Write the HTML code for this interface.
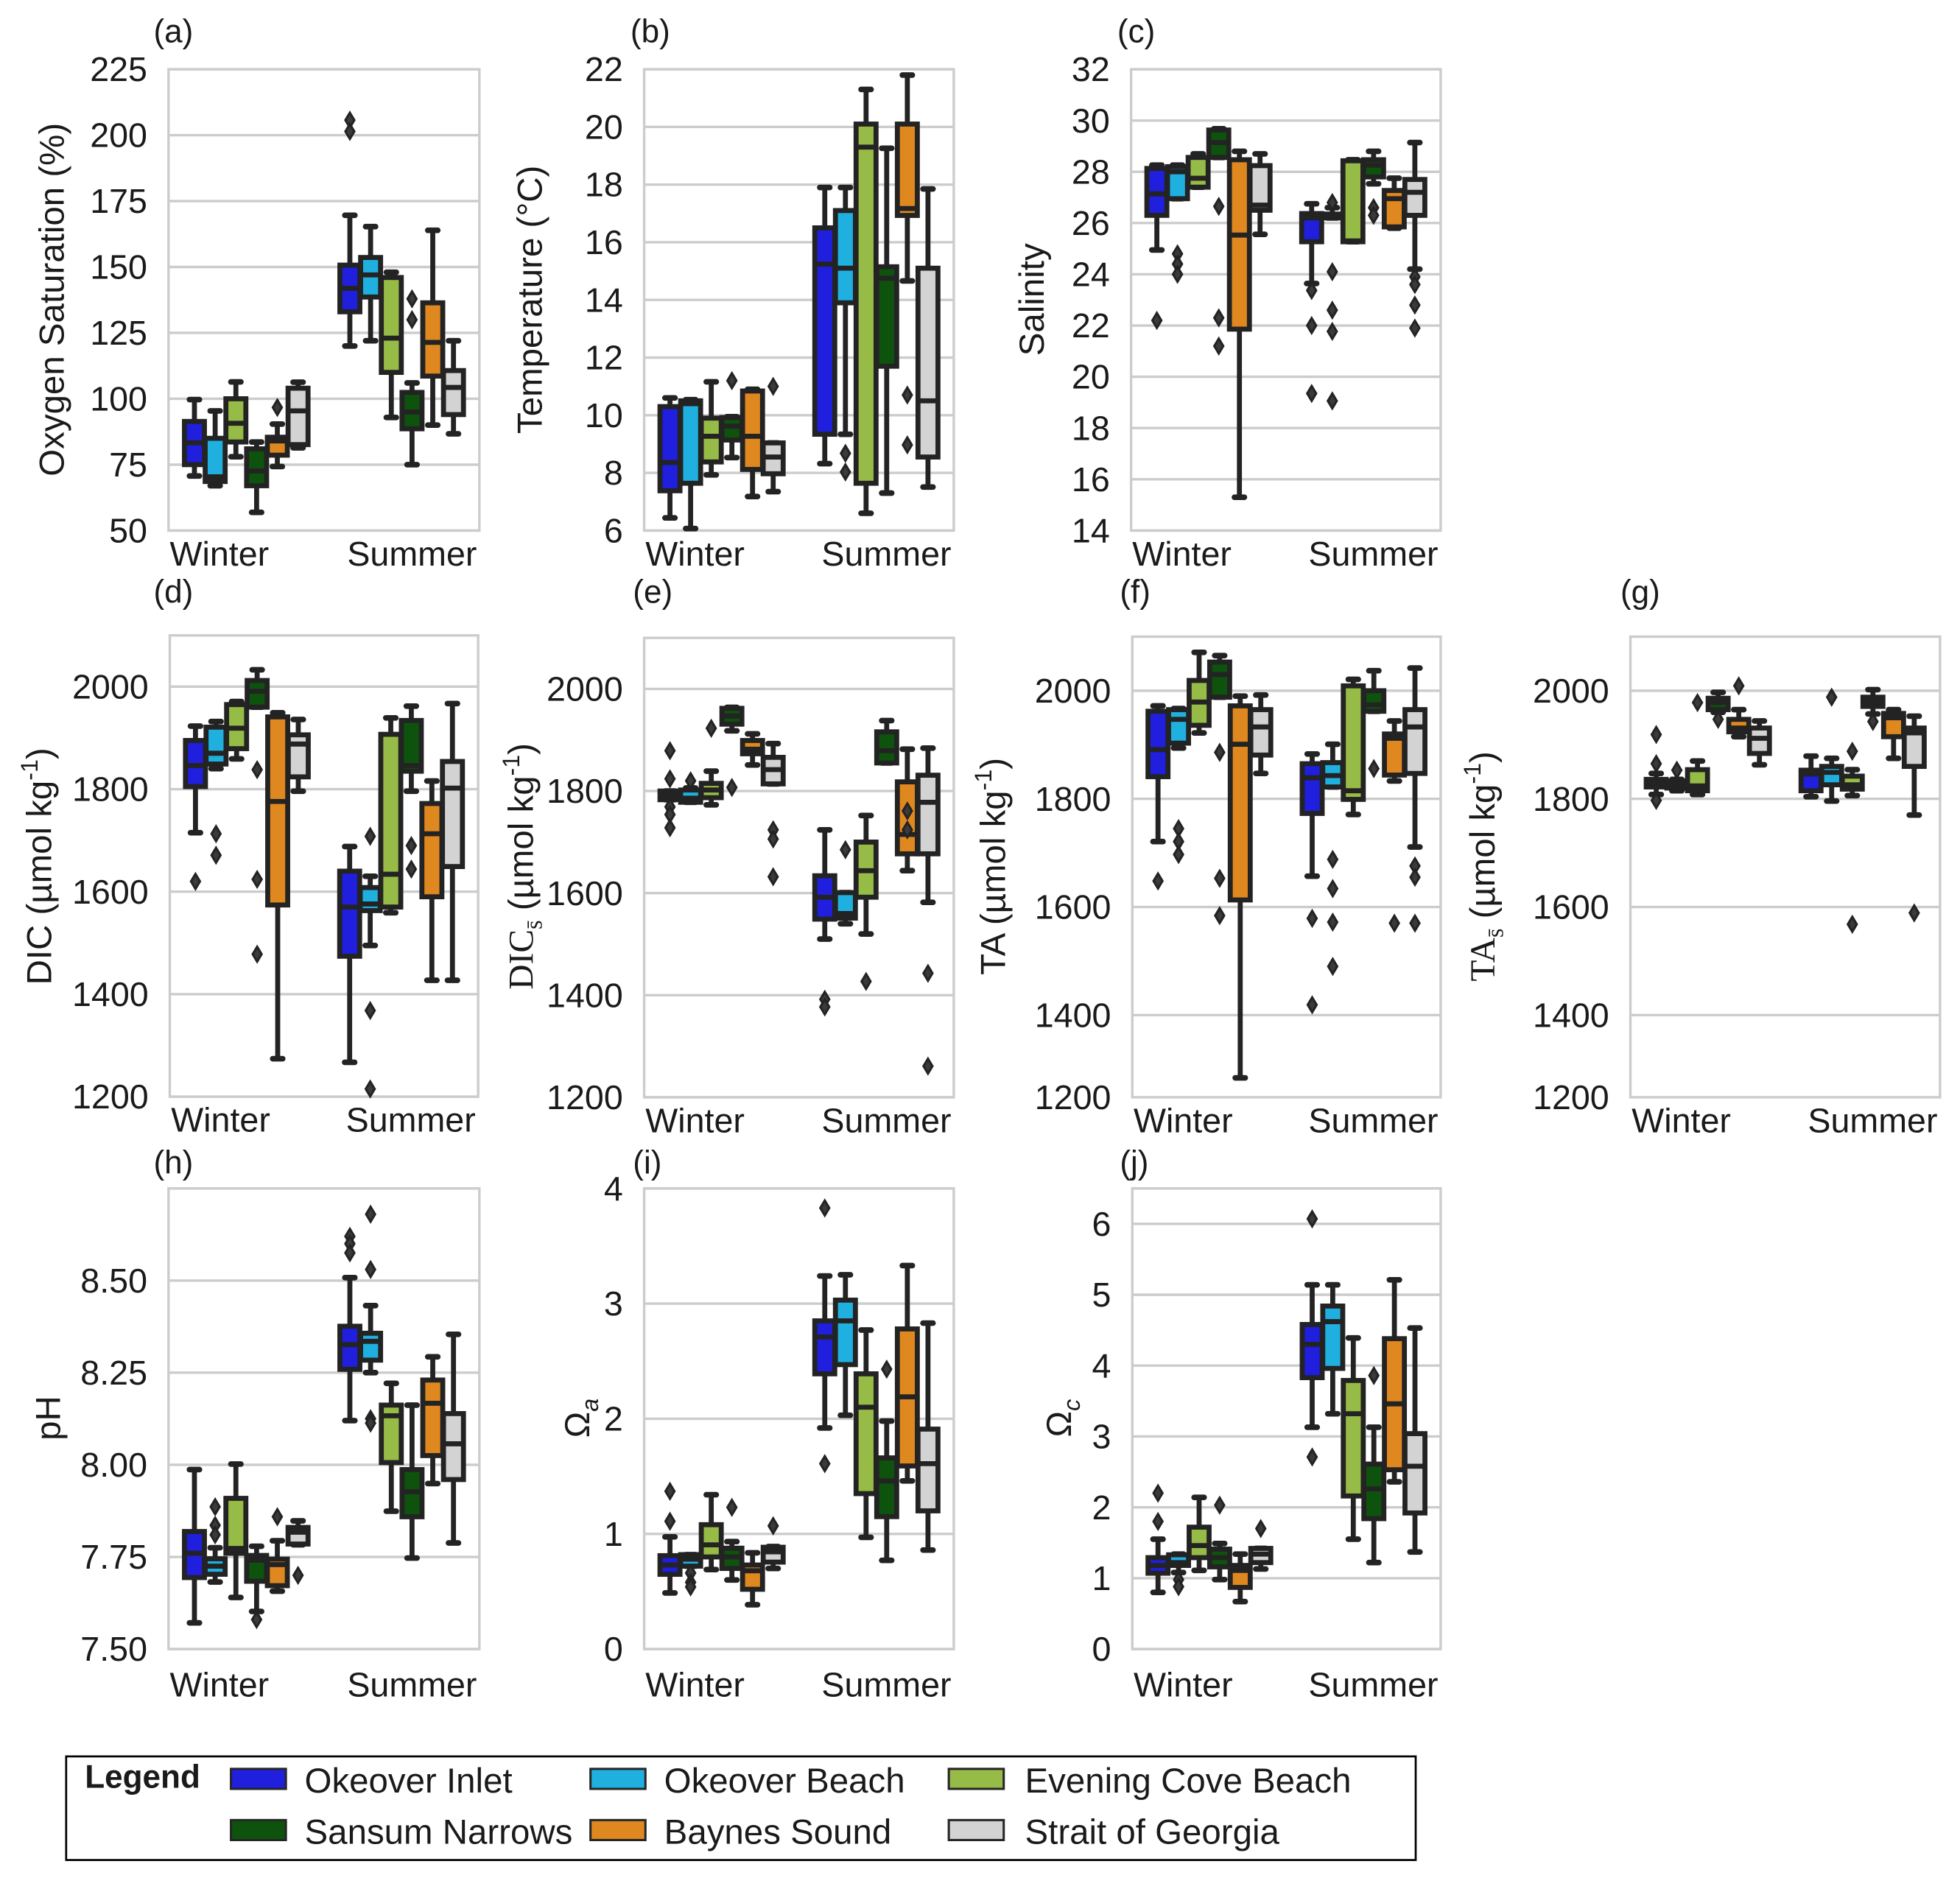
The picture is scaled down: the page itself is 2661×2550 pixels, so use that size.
<!DOCTYPE html>
<html><head><meta charset="utf-8">
<style>
html,body{margin:0;padding:0;background:#fff;}
svg{display:block;}
text{font-family:"Liberation Sans",Arial,sans-serif;fill:#1a1a1a;}
.serif{font-family:"Liberation Serif",serif;}
</style></head>
<body>
<svg id="fig" width="2661" height="2550" viewBox="0 0 1570 1504.4" preserveAspectRatio="none" xmlns="http://www.w3.org/2000/svg">
<rect x="0" y="0" width="1570" height="1504.4" fill="#fff"/>
<g id="plots"></g>
<!-- panel letters -->
<g font-size="26">
<text x="123" y="34">(a)</text>
<text x="505" y="34">(b)</text>
<text x="895" y="34">(c)</text>
<text x="123" y="483">(d)</text>
<text x="507" y="483">(e)</text>
<text x="897" y="483">(f)</text>
<text x="1298" y="483">(g)</text>
<text x="123" y="940">(h)</text>
<text x="507" y="940">(i)</text>
<text x="897" y="940">(j)</text>
</g>
<!-- y titles -->
<g font-size="28" text-anchor="middle">
<text transform="translate(51,240) rotate(-90)">Oxygen Saturation (%)</text>
<text transform="translate(434,240) rotate(-90)">Temperature (°C)</text>
<text transform="translate(836,240) rotate(-90)">Salinity</text>
<text transform="translate(41,694) rotate(-90)">DIC (µmol kg<tspan font-size="19" dy="-11">-1</tspan><tspan dy="11">)</tspan></text>
<text transform="translate(427,694) rotate(-90)"><tspan class="serif">DIC</tspan><tspan class="serif" font-size="19" dy="7">s̄</tspan><tspan dy="-7"> (µmol kg</tspan><tspan font-size="19" dy="-11">-1</tspan><tspan dy="11">)</tspan></text>
<text transform="translate(805,694) rotate(-90)">TA (µmol kg<tspan font-size="19" dy="-11">-1</tspan><tspan dy="11">)</tspan></text>
<text transform="translate(1197,694) rotate(-90)"><tspan class="serif">TA</tspan><tspan class="serif" font-size="19" dy="7">s̄</tspan><tspan dy="-7"> (µmol kg</tspan><tspan font-size="19" dy="-11">-1</tspan><tspan dy="11">)</tspan></text>
<text transform="translate(48,1136) rotate(-90)">pH</text>
<text transform="translate(472,1136) rotate(-90)">Ω<tspan font-size="19" font-style="italic" dy="7">a</tspan></text>
<text transform="translate(858,1136) rotate(-90)">Ω<tspan font-size="19" font-style="italic" dy="7">c</tspan></text>
</g>
<!-- legend -->
<g>
<rect x="53" y="1407" width="1081" height="83" fill="#fff" stroke="#000" stroke-width="1.6"/>
<text x="68" y="1432" font-size="26" font-weight="bold">Legend</text>
<g font-size="28" stroke="#262626" stroke-width="1.8">
<rect x="185" y="1417" width="44" height="16" fill="#1f1fdd"/>
<rect x="473" y="1417" width="44" height="16" fill="#20b0e0"/>
<rect x="760" y="1417" width="44" height="16" fill="#96bb46"/>
<rect x="185" y="1458" width="44" height="16" fill="#0d520d"/>
<rect x="473" y="1458" width="44" height="16" fill="#e08820"/>
<rect x="760" y="1458" width="44" height="16" fill="#d3d3d3"/>
</g>
<g font-size="28">
<text x="244" y="1436">Okeover Inlet</text>
<text x="532" y="1436">Okeover Beach</text>
<text x="821" y="1436">Evening Cove Beach</text>
<text x="244" y="1477">Sansum Narrows</text>
<text x="532" y="1477">Baynes Sound</text>
<text x="821" y="1477">Strait of Georgia</text>
</g>
</g>
</svg>
<script>
// ---- data: [whiskerLow, q1, median, q3, whiskerHigh] per site; outliers [season, site, value]
const seasons = ["Winter", "Summer"];
const sites = ["Okeover Inlet", "Okeover Beach", "Evening Cove Beach", "Sansum Narrows", "Baynes Sound", "Strait of Georgia"];
const siteColors = ["#1f1fdd", "#20b0e0", "#96bb46", "#0d520d", "#e08820", "#d3d3d3"];

const oxyWinter = [[70.7,75,83.3,91.4,99.7],[67,68.6,70.4,85,95.4],[78,83.6,90.7,100,106.4],[56.9,67,72.6,81,83.6],[74.3,78.6,84,85.4,90.4],[81.4,82.6,95.4,104,106.3]];
const oxySummer = [[120,133,141.9,150.7,169.6],[122,138.6,147,153.6,165.3],[92.9,110,123,146,148],[75,88.6,95,102.4,106],[90,108.6,121.4,136.4,163.9],[86.7,94,104.3,110.7,122]];
const oxyOutliers = [[0,4,96.7],[1,0,205.7],[1,0,201.4],[1,3,137.9],[1,3,130]];
const oxyTicks = [50,75,100,125,150,175,200,225];

const tempWinter = [[6.44,7.38,8.36,10.3,10.6],[6.07,7.64,10.4,10.5,10.54],[7.93,8.38,9.27,9.9,11.16],[8.53,9.14,9.62,9.92,9.95],[7.18,8.12,9.27,10.84,10.9],[7.35,7.97,8.55,9.04,9.04]];
const tempSummer = [[8.32,9.34,15.24,16.5,17.9],[9.34,13.9,15.1,17.1,17.9],[6.6,7.64,19.3,20.1,21.3],[7.3,11.7,14.75,15.15,19.26],[14.66,16.93,17.17,20.1,21.8],[7.51,8.55,10.5,15.1,17.85]];
const tempOutliers = [[0,3,11.2],[0,5,11.0],[1,1,8.68],[1,1,8.03],[1,4,10.7],[1,4,8.97]];
const tempTicks = [6,8,10,12,14,16,18,20,22];

const salWinter = [[24.95,26.3,27.14,28.13,28.26],[26.95,26.95,28.0,28.2,28.26],[27.4,27.4,27.75,28.56,28.7],[28.56,28.56,29.14,29.63,29.68],[15.3,21.86,25.53,28.47,28.8],[25.56,26.5,26.7,28.24,28.7]];
const salSummer = [[23.64,25.27,26.2,26.37,26.75],[26.2,26.2,26.3,26.35,26.6],[25.27,25.27,25.3,28.43,28.47],[27.53,27.8,28.26,28.47,28.8],[25.8,25.85,26.95,27.27,27.75],[24.2,26.3,27.2,27.7,29.14]];
const salOutliers = [[0,0,22.2],[0,1,24.8],[0,1,24.4],[0,1,24.0],[0,3,26.65],[0,3,22.3],[0,3,21.2],[1,0,23.37],[1,0,22.0],[1,0,19.35],[1,1,26.8],[1,1,24.1],[1,1,22.6],[1,1,21.77],[1,1,19.06],[1,3,26.6],[1,3,26.3],[1,5,23.9],[1,5,23.6],[1,5,22.8],[1,5,21.9]];
const salTicks = [14,16,18,20,22,24,26,28,30,32];

const dicWinter = [[1715,1805,1846,1895,1923],[1840,1849,1870,1921,1932],[1859,1879,1919,1965,1971],[1960,1960,1991,2012,2033],[1274,1574,1776,1941,1949],[1796,1824,1888,1906,1936]];
const dicSummer = [[1267,1474,1570,1640,1688],[1495,1563,1576,1608,1630],[1559,1570,1634,1907,1939],[1796,1835,1846,1934,1962],[1427,1590,1713,1772,1816],[1427,1649,1802,1854,1967]];
const dicOutliers = [[0,0,1620],[0,1,1713],[0,1,1671],[0,3,1838],[0,3,1624],[0,3,1478],[1,1,1708],[1,1,1368],[1,1,1215],[1,3,1690],[1,3,1644]];
const dicTicks = [1200,1400,1600,1800,2000];

const dicsWinter = [[1783,1783,1792,1800,1800],[1778,1778,1786,1802,1806],[1773,1787,1802,1815,1839],[1918,1931,1947,1962,1964],[1851,1873,1882,1899,1912],[1814,1814,1842,1866,1893]];
const dicsSummer = [[1510,1549,1592,1634,1724],[1540,1551,1560,1601,1601],[1520,1592,1644,1700,1752],[1855,1855,1879,1916,1938],[1644,1677,1715,1818,1882],[1582,1677,1778,1831,1884]];
const dicsOutliers = [[0,0,1879],[0,0,1824],[0,0,1769],[0,0,1754],[0,0,1728],[0,1,1820],[0,2,1923],[0,3,1807],[0,5,1724],[0,5,1706],[0,5,1632],[1,0,1392],[1,0,1377],[1,1,1685],[1,2,1427],[1,4,1761],[1,4,1724],[1,5,1443],[1,5,1261]];

const taWinter = [[1721,1841,1891,1962,1972],[1894,1903,1947,1965,1967],[1922,1936,1979,2019,2071],[1988,1988,2030,2053,2065],[1284,1613,1901,1972,1990],[1847,1881,1933,1965,1992]];
const taSummer = [[1657,1773,1839,1865,1883],[1822,1822,1843,1867,1901],[1771,1799,1815,2009,2021],[1962,1962,1974,2000,2037],[1833,1844,1912,1920,1944],[1711,1847,1933,1965,2042]];
const taOutliers = [[0,0,1648],[0,1,1745],[0,1,1721],[0,1,1697],[0,3,1886],[0,3,1653],[0,3,1584],[1,0,1579],[1,0,1419],[1,1,1688],[1,1,1634],[1,1,1572],[1,1,1490],[1,3,1856],[1,4,1570],[1,5,1676],[1,5,1655],[1,5,1570]];
const taTicks = [1400,1600,1800,2000];

const tasWinter = [[1808,1822,1829,1836,1847],[1815,1820,1825,1833,1836],[1808,1815,1824,1854,1870],[1960,1965,1978,1986,1997],[1915,1924,1931,1947,1965],[1863,1884,1912,1931,1944]];
const tasSummer = [[1804,1815,1846,1853,1879],[1796,1826,1849,1860,1875],[1806,1818,1826,1842,1854],[1957,1971,1979,1988,2002],[1875,1915,1950,1958,1965],[1770,1860,1922,1931,1953]];
const tasOutliers = [[0,0,1919],[0,0,1865],[0,0,1797],[0,1,1853],[0,2,1978],[0,3,1947],[0,4,2009],[1,1,1988],[1,2,1888],[1,2,1568],[1,3,1943],[1,5,1589]];

const phWinter = [[7.571,7.694,7.760,7.819,7.987],[7.682,7.703,7.725,7.745,7.775],[7.640,7.760,7.773,7.909,8.002],[7.602,7.684,7.741,7.754,7.779],[7.657,7.672,7.729,7.744,7.794],[7.783,7.785,7.817,7.830,7.848]];
const phSummer = [[8.120,8.259,8.326,8.376,8.508],[8.250,8.284,8.335,8.357,8.432],[7.874,8.006,8.133,8.162,8.221],[7.747,7.859,7.927,7.987,8.162],[7.949,8.025,8.167,8.230,8.293],[7.788,7.960,8.057,8.139,8.354]];
const phOutliers = [[0,1,7.886],[0,1,7.836],[0,1,7.81],[0,3,7.58],[0,4,7.859],[0,5,7.70],[1,0,8.62],[1,0,8.60],[1,0,8.575],[1,1,8.68],[1,1,8.53],[1,1,8.125],[1,1,8.113]];
const phTicks = [7.5,7.75,8.0,8.25,8.5];
const phTickLabels = ["7.50","7.75","8.00","8.25","8.50"];

const omaWinter = [[0.487,0.649,0.730,0.811,0.974],[0.72,0.72,0.78,0.82,0.82],[0.69,0.80,0.905,1.08,1.34],[0.60,0.70,0.80,0.876,0.933],[0.385,0.519,0.68,0.73,0.836],[0.70,0.755,0.844,0.884,0.89]];
const omaSummer = [[1.92,2.39,2.71,2.85,3.24],[2.03,2.47,2.85,3.03,3.25],[0.97,1.35,2.10,2.39,2.77],[0.77,1.15,1.46,1.66,1.98],[1.46,1.59,2.19,2.78,3.33],[0.86,1.20,1.61,1.91,2.83]];
const omaOutliers = [[0,0,1.37],[0,0,1.11],[0,1,0.66],[0,1,0.58],[0,1,0.54],[0,3,1.23],[0,5,1.07],[1,0,3.83],[1,0,1.61],[1,3,2.43]];
const omaTicks = [0,1,2,3,4];

const omcWinter = [[0.80,1.07,1.18,1.29,1.55],[1.08,1.18,1.22,1.33,1.34],[1.11,1.29,1.46,1.72,2.14],[0.98,1.16,1.29,1.41,1.49],[0.67,0.87,1.11,1.18,1.34],[1.13,1.22,1.34,1.42,1.42]];
const omcSummer = [[3.13,3.83,4.30,4.58,5.14],[3.32,3.96,4.62,4.84,5.14],[1.55,2.16,3.32,3.79,4.39],[1.22,1.84,2.26,2.61,3.13],[2.36,2.53,3.46,4.38,5.21],[1.37,1.92,2.58,3.04,4.53]];
const omcOutliers = [[0,0,2.2],[0,0,1.8],[0,1,0.98],[0,1,0.88],[0,3,2.03],[0,5,1.70],[1,0,6.07],[1,0,2.71],[1,3,3.86]];
const omcTicks = [0,1,2,3,4,5,6];

// ---- layout (not data)
const panels = [
 {id:"a", box:[135,55.5,384,425], ylim:[50,225], ticks:oxyTicks, w:oxyWinter, s:oxySummer, o:oxyOutliers, xo:28},
 {id:"b", box:[516,55.5,764,425], ylim:[6,22], ticks:tempTicks, w:tempWinter, s:tempSummer, o:tempOutliers, xo:28},
 {id:"c", box:[906,55.5,1154,425], ylim:[14,32], ticks:salTicks, w:salWinter, s:salSummer, o:salOutliers, xo:28},
 {id:"d", box:[136,509,383,878.5], ylim:[1200,2100], ticks:dicTicks, w:dicWinter, s:dicSummer, o:dicOutliers, xo:28},
 {id:"e", box:[516,511,764,879], ylim:[1200,2100], ticks:dicTicks, w:dicsWinter, s:dicsSummer, o:dicsOutliers, xo:28},
 {id:"f", box:[907,510,1154,879], ylim:[1248,2100], ticks:taTicks, w:taWinter, s:taSummer, o:taOutliers, bottomLabel:"1200", xo:28},
 {id:"g", box:[1306,510,1554,879], ylim:[1248,2100], ticks:taTicks, w:tasWinter, s:tasSummer, o:tasOutliers, bottomLabel:"1200", xo:28},
 {id:"h", box:[135,952,384,1321], ylim:[7.5,8.75], ticks:phTicks, labels:phTickLabels, w:phWinter, s:phSummer, o:phOutliers, xo:38},
 {id:"i", box:[516,952,764,1321], ylim:[0,4], ticks:omaTicks, w:omaWinter, s:omaSummer, o:omaOutliers, xo:38},
 {id:"j", box:[907,952,1154,1321], ylim:[0,6.5], ticks:omcTicks, w:omcWinter, s:omcSummer, o:omcOutliers, xo:38}
];

const NS = "http://www.w3.org/2000/svg";
const root = document.getElementById("plots");
function mk(tag, attrs, parent){
  const el = document.createElementNS(NS, tag);
  for (const k in attrs) el.setAttribute(k, attrs[k]);
  parent.appendChild(el);
  return el;
}
const DARK = "#232323";

panels.forEach(p => {
  const [L,T,R,B] = p.box;
  const g = mk("g", {}, root);
  
  
  const yScale = v => T + (p.ylim[1]-v)/(p.ylim[1]-p.ylim[0])*(B-T);
  const xScale = u => L + (u+0.5)/2*(R-L);
  p.ticks.forEach((t,k) => {
    const yy = yScale(t);
    const gl = mk("line", {x1:L, x2:R, y1:yy, y2:yy, stroke:"#cccccc", "stroke-width":2}, g);
    
    
    const tl = mk("text", {x:L-17, y:yy+9.5, "text-anchor":"end", "font-size":27.5}, g);
    tl.textContent = p.labels ? p.labels[k] : String(t);
    
    
  });
  if (p.bottomLabel) {
    const bl = mk("text", {x:L-17, y:B+9.5, "text-anchor":"end", "font-size":27.5}, g);
    bl.textContent = p.bottomLabel;
    
    
  }
  const frame = mk("rect", {x:L, y:T, width:R-L, height:B-T, fill:"none", stroke:"#cccccc", "stroke-width":2}, g);
  
  
  const xl0 = mk("text", {x:L+1, y:B+p.xo, "text-anchor":"start", "font-size":27.5}, g);
  xl0.textContent = seasons[0];
  
  
  const xl1 = mk("text", {x:R-2, y:B+p.xo, "text-anchor":"end", "font-size":27.5}, g);
  xl1.textContent = seasons[1];
  
  
  const hueW = 0.8/6;
  [p.w, p.s].forEach((seasonData, si) => {
    seasonData.forEach((st, i) => {
      const cx = xScale(si - 0.4 + (i+0.5)*hueW);
      const bw = 16;
      const [lo,q1,md,q3,hi] = st;
      const bg = mk("g", {}, g);
      
      
      mk("line", {x1:cx, x2:cx, y1:yScale(lo), y2:yScale(q1), stroke:DARK, "stroke-width":4}, bg);
      mk("line", {x1:cx, x2:cx, y1:yScale(q3), y2:yScale(hi), stroke:DARK, "stroke-width":4}, bg);
      mk("line", {x1:cx-4, x2:cx+4, y1:yScale(lo), y2:yScale(lo), stroke:DARK, "stroke-width":4.5, "stroke-linecap":"round"}, bg);
      mk("line", {x1:cx-4, x2:cx+4, y1:yScale(hi), y2:yScale(hi), stroke:DARK, "stroke-width":4.5, "stroke-linecap":"round"}, bg);
      const y3 = yScale(q3), y1 = yScale(q1);
      mk("rect", {x:cx-bw/2, y:y3, width:bw, height:Math.max(y1-y3,0.5), fill:siteColors[i], stroke:DARK, "stroke-width":4}, bg);
      mk("line", {x1:cx-bw/2, x2:cx+bw/2, y1:yScale(md), y2:yScale(md), stroke:DARK, "stroke-width":4}, bg);
    });
  });
  p.o.forEach(o => {
    const cx = xScale(o[0] - 0.4 + (o[1]+0.5)*hueW);
    const cy = yScale(o[2]);
    const d = mk("path", {d:`M${cx},${cy-6} L${cx+3.6},${cy} L${cx},${cy+6} L${cx-3.6},${cy} Z`, fill:"#3a3a3a", stroke:DARK, "stroke-width":1.8}, g);
    
    
  });
});
</script>
</body></html>
